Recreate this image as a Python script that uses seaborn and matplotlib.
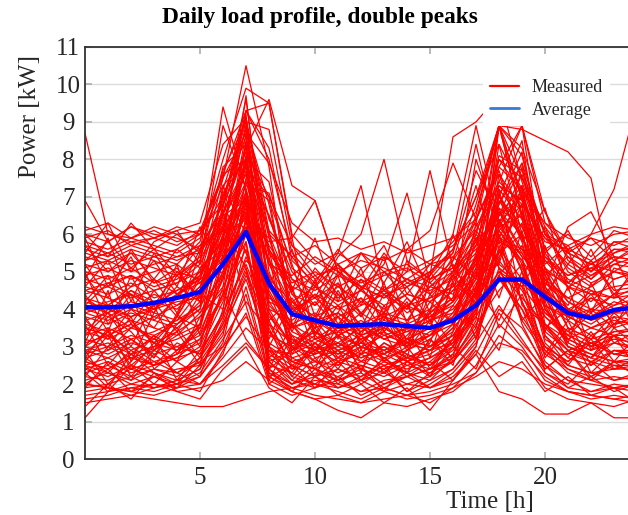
import numpy as np
import pandas as pd
import matplotlib
matplotlib.use("Agg")
import matplotlib.pyplot as plt
from matplotlib.lines import Line2D
import seaborn as sns

hours = list(range(25))

measured = [
    [8.7, 6.0, 5.8, 5.9, 5.7, 6.1, 7.6, 9.3, 8.0, 5.5, 4.8, 5.2, 4.6, 4.9, 5.1, 4.7, 5.3, 6.2, 7.4, 6.8, 5.9, 5.2, 4.8, 5.5, 5.8],
    [6.9, 5.8, 6.2, 6.0, 5.9, 5.6, 6.8, 8.2, 6.0, 4.5, 4.9, 4.3, 4.8, 4.4, 4.6, 5.0, 5.6, 7.0, 8.4, 7.2, 6.1, 5.0, 4.6, 5.2, 5.4],
    [1.1, 1.8, 2.0, 1.9, 2.1, 2.0, 2.8, 4.6, 2.3, 2.0, 2.2, 1.9, 2.1, 2.3, 2.0, 2.2, 2.6, 3.4, 4.8, 4.0, 3.0, 2.4, 2.1, 1.9, 2.0],
    [4.2, 4.0, 3.8, 4.1, 4.3, 5.0, 7.5, 10.5, 7.8, 3.6, 3.2, 3.4, 3.0, 3.3, 3.1, 2.9, 3.5, 4.2, 6.5, 7.0, 5.1, 4.2, 3.9, 4.4, 4.0],
    [5.5, 5.3, 5.6, 5.4, 5.2, 5.8, 8.0, 9.9, 9.5, 6.0, 5.3, 4.9, 5.5, 5.0, 5.2, 4.8, 5.1, 6.0, 8.0, 7.5, 6.2, 5.4, 5.0, 5.6, 5.5],
    [3.5, 3.3, 3.6, 3.2, 3.8, 5.5, 9.4, 7.2, 4.0, 3.0, 2.8, 3.1, 2.7, 3.0, 2.6, 2.9, 3.3, 4.1, 5.0, 4.6, 3.8, 3.3, 3.0, 3.4, 3.5],
    [4.8, 4.6, 4.9, 4.5, 4.7, 5.2, 6.5, 8.3, 9.6, 7.3, 6.9, 5.0, 4.6, 4.3, 4.8, 4.4, 4.9, 5.5, 6.8, 7.9, 6.0, 5.1, 4.7, 5.0, 4.9],
    [2.6, 2.4, 2.7, 2.5, 2.8, 3.5, 6.0, 9.3, 9.5, 5.9, 3.2, 2.9, 3.1, 2.7, 2.9, 3.2, 3.8, 5.1, 8.9, 7.0, 4.0, 3.1, 2.8, 2.6, 2.7],
    [5.9, 6.1, 5.7, 5.9, 6.2, 6.0, 7.0, 8.8, 5.6, 4.4, 4.1, 4.6, 4.2, 4.5, 3.9, 4.3, 5.0, 5.8, 7.4, 8.9, 6.6, 5.5, 5.9, 5.3, 5.7],
    [2.0, 1.9, 1.8, 2.0, 1.9, 2.2, 4.0, 7.2, 2.3, 1.9, 2.1, 2.0, 1.8, 2.1, 2.2, 1.9, 2.3, 3.0, 5.6, 4.2, 2.6, 2.1, 2.0, 1.9, 2.0],
    [3.0, 2.8, 3.1, 2.9, 3.3, 3.6, 5.2, 8.5, 5.4, 2.6, 2.4, 2.7, 2.5, 2.3, 2.8, 2.5, 3.0, 3.9, 7.6, 5.8, 3.5, 2.9, 2.7, 3.1, 3.0],
    [4.5, 4.3, 4.0, 4.4, 4.1, 4.6, 6.3, 7.9, 4.1, 3.5, 3.7, 3.3, 3.6, 3.2, 3.4, 3.7, 4.0, 4.8, 6.2, 6.5, 4.9, 4.2, 3.8, 4.1, 4.5],
    [5.2, 5.0, 5.3, 5.1, 4.9, 5.4, 6.9, 9.0, 6.4, 5.0, 4.3, 4.7, 3.9, 4.5, 4.1, 4.6, 4.4, 5.3, 7.0, 6.2, 5.1, 4.6, 4.9, 5.3, 5.2],
    [2.3, 2.5, 2.2, 2.4, 2.3, 2.7, 3.8, 6.4, 2.5, 2.3, 2.0, 2.4, 2.2, 2.6, 2.3, 2.1, 2.7, 3.5, 6.0, 3.7, 2.8, 2.4, 2.2, 2.5, 2.3],
    [3.8, 3.6, 3.9, 3.7, 3.5, 4.0, 5.8, 7.0, 3.3, 3.0, 3.4, 2.9, 3.2, 3.5, 3.1, 3.3, 3.6, 4.7, 5.5, 6.0, 4.1, 3.7, 3.3, 3.6, 3.8],
    [1.5, 1.6, 1.7, 1.6, 1.5, 1.4, 1.4, 1.6, 1.8, 1.9, 1.7, 1.6, 1.5, 1.6, 1.7, 1.8, 2.0, 2.3, 3.1, 2.9, 2.2, 1.8, 1.7, 1.6, 1.5],
    [4.9, 5.1, 4.8, 5.0, 5.2, 4.7, 5.6, 8.1, 3.6, 3.1, 2.9, 3.3, 3.0, 2.8, 3.2, 3.0, 3.4, 4.5, 6.8, 8.2, 5.5, 4.6, 4.2, 4.8, 5.0],
    [6.2, 6.0, 5.9, 6.1, 5.8, 6.0, 7.5, 8.7, 7.9, 6.3, 5.8, 5.9, 5.6, 5.8, 5.5, 5.7, 5.9, 6.4, 7.8, 7.2, 6.3, 5.9, 5.7, 6.0, 6.1],
    [2.8, 3.0, 2.7, 2.9, 2.6, 3.0, 4.4, 5.6, 3.1, 2.7, 2.9, 2.6, 2.8, 2.5, 2.7, 3.0, 3.3, 4.2, 5.3, 4.5, 3.4, 2.9, 3.1, 2.8, 2.9],
    [4.0, 4.2, 4.4, 4.1, 4.5, 4.8, 6.4, 7.6, 6.5, 4.4, 3.7, 3.9, 3.5, 3.8, 3.6, 3.9, 4.3, 5.4, 6.7, 6.2, 4.8, 4.0, 3.8, 4.2, 4.0],
    [3.2, 3.0, 3.3, 3.1, 2.9, 3.4, 4.8, 6.8, 4.2, 3.3, 3.0, 2.8, 3.1, 2.9, 3.2, 3.5, 5.0, 6.5, 8.9, 8.8, 8.5, 8.2, 7.5, 4.6, 3.3],
    [4.6, 4.4, 4.7, 4.3, 4.5, 4.9, 6.1, 7.4, 5.2, 4.0, 4.3, 3.8, 4.1, 4.4, 4.0, 4.9, 8.6, 9.0, 9.7, 7.4, 5.6, 4.8, 4.5, 4.3, 4.6],
    [3.9, 3.7, 4.0, 3.8, 4.1, 4.4, 5.7, 7.7, 4.8, 3.4, 3.1, 3.5, 3.2, 3.4, 3.0, 3.3, 3.8, 4.6, 5.9, 5.3, 4.4, 5.2, 6.0, 7.2, 9.5],
    [5.0, 4.8, 5.1, 4.7, 4.9, 5.3, 6.6, 7.8, 5.5, 4.6, 4.3, 5.4, 6.0, 8.0, 5.3, 4.8, 5.1, 5.7, 6.6, 6.0, 5.3, 4.9, 5.1, 4.8, 5.0],
    [2.4, 2.6, 2.3, 2.5, 2.7, 2.9, 4.2, 6.0, 4.5, 3.4, 4.6, 5.5, 7.3, 4.5, 5.0, 7.7, 5.1, 4.3, 6.4, 5.0, 3.6, 2.9, 2.6, 2.4, 2.5],
    [3.6, 3.4, 3.7, 3.5, 3.3, 3.9, 5.0, 6.3, 5.8, 5.9, 6.9, 5.0, 4.5, 5.2, 7.1, 4.7, 4.2, 5.2, 7.2, 6.4, 4.5, 3.8, 3.5, 3.7, 3.6],
    [1.9, 2.0, 2.2, 1.9, 2.1, 2.4, 3.6, 5.0, 2.6, 2.1, 1.9, 2.2, 1.7, 2.0, 2.3, 1.9, 2.1, 2.8, 4.0, 3.5, 2.5, 2.1, 1.8, 2.0, 1.9],
    [5.6, 5.4, 5.7, 5.5, 5.3, 5.6, 6.2, 7.1, 5.2, 4.9, 5.4, 5.0, 5.3, 5.1, 4.8, 5.2, 5.0, 5.6, 6.1, 6.8, 5.9, 5.5, 5.2, 5.6, 5.6],
    [2.7, 2.9, 3.2, 2.8, 3.0, 3.3, 5.0, 8.0, 2.2, 2.5, 2.2, 2.6, 2.4, 2.2, 2.5, 2.3, 2.6, 3.7, 8.9, 6.5, 3.3, 2.7, 2.5, 2.9, 2.7],
    [4.3, 4.1, 4.5, 4.2, 4.0, 4.6, 5.5, 6.6, 4.6, 3.6, 3.9, 3.4, 3.7, 3.3, 3.5, 3.8, 4.1, 5.0, 5.8, 5.5, 4.5, 4.0, 4.3, 4.1, 4.3],
    [1.7, 1.8, 1.9, 2.0, 1.8, 1.9, 2.1, 2.6, 2.1, 1.8, 1.6, 1.7, 1.5, 1.8, 1.6, 1.7, 1.9, 2.2, 2.6, 2.4, 2.0, 1.8, 1.7, 1.6, 1.7],
    [3.4, 3.2, 3.5, 3.3, 3.6, 4.1, 6.8, 9.2, 3.0, 2.6, 2.8, 3.0, 2.7, 2.9, 2.6, 2.8, 3.2, 4.3, 7.0, 8.5, 4.6, 3.5, 3.2, 3.4, 3.4],
    [5.3, 5.5, 5.2, 5.4, 5.6, 5.1, 5.8, 6.9, 5.7, 4.8, 4.5, 4.9, 4.6, 4.3, 4.7, 4.5, 4.8, 5.4, 5.9, 5.6, 5.0, 4.7, 5.1, 5.4, 5.3],
    [2.2, 2.1, 2.4, 2.2, 2.0, 2.3, 3.2, 4.2, 3.4, 2.6, 2.4, 2.1, 2.3, 1.9, 2.2, 2.4, 2.7, 3.6, 4.5, 5.2, 3.3, 2.5, 2.3, 2.1, 2.2],
    [4.7, 4.9, 4.6, 4.8, 4.4, 4.9, 7.0, 8.6, 5.9, 4.2, 3.8, 4.1, 3.6, 3.9, 3.7, 4.0, 4.5, 5.3, 8.0, 7.1, 5.4, 4.7, 4.4, 4.6, 4.7],
    [3.1, 3.3, 2.9, 3.2, 3.0, 2.8, 3.9, 5.3, 4.7, 3.2, 2.9, 3.1, 2.8, 3.0, 2.7, 2.9, 3.1, 3.8, 4.9, 5.7, 4.0, 3.3, 3.0, 3.2, 3.1],
    [2.0, 1.9, 1.8, 1.7, 1.9, 2.0, 2.5, 3.1, 2.4, 1.8, 1.6, 1.3, 1.1, 1.5, 1.4, 1.6, 1.8, 2.3, 3.3, 2.8, 1.9, 1.6, 1.5, 1.4, 1.6],
    [2.5, 2.3, 2.1, 2.4, 2.2, 2.6, 3.5, 4.8, 3.0, 2.2, 2.0, 1.9, 2.1, 1.8, 2.0, 1.9, 2.2, 2.8, 1.8, 1.6, 1.2, 1.2, 1.5, 1.1, 1.1],
    [6.0, 5.8, 6.2, 5.9, 6.1, 6.3, 8.4, 9.1, 6.1, 5.4, 5.7, 5.2, 5.5, 5.3, 5.6, 5.2, 5.4, 6.1, 7.3, 6.9, 5.8, 5.6, 5.9, 5.7, 6.0],
    [2.9, 2.7, 3.0, 2.6, 2.8, 3.1, 4.9, 6.6, 2.8, 2.4, 2.6, 2.3, 2.6, 2.4, 2.7, 2.5, 2.9, 4.0, 6.9, 6.0, 3.2, 2.8, 2.6, 2.9, 2.9],
    [4.4, 4.6, 4.3, 4.5, 4.7, 5.0, 5.9, 7.3, 7.1, 5.1, 4.6, 4.2, 4.5, 4.1, 4.4, 4.2, 4.7, 5.9, 6.3, 7.6, 5.3, 4.6, 4.4, 4.3, 4.4],
    [1.8, 1.9, 1.7, 1.9, 2.0, 1.8, 2.9, 3.9, 2.0, 1.7, 1.9, 2.1, 1.8, 1.9, 1.7, 2.0, 2.4, 3.1, 4.1, 3.2, 2.3, 1.9, 1.8, 1.9, 1.8],
    [3.7, 3.9, 3.5, 3.8, 3.6, 4.2, 6.2, 8.9, 6.8, 3.9, 3.5, 3.8, 3.3, 3.6, 3.4, 3.7, 3.9, 5.1, 6.6, 5.6, 4.3, 3.8, 3.5, 3.8, 3.7],
    [5.7, 5.5, 5.8, 5.6, 5.4, 5.7, 6.6, 7.6, 4.2, 3.9, 4.4, 4.0, 4.3, 3.8, 4.1, 4.3, 4.6, 5.7, 8.1, 7.7, 6.0, 5.5, 5.2, 5.5, 5.7],
    [2.5, 2.7, 2.4, 2.6, 2.3, 2.6, 3.0, 3.8, 2.9, 2.5, 2.2, 2.4, 2.1, 2.5, 2.3, 2.6, 3.1, 4.4, 5.4, 6.3, 4.1, 3.0, 2.7, 2.5, 2.5],
    [3.3, 3.5, 3.2, 3.4, 3.7, 4.5, 7.1, 8.0, 7.4, 4.5, 3.4, 3.1, 3.5, 3.2, 3.0, 3.4, 3.7, 4.4, 6.1, 5.1, 3.9, 3.4, 3.1, 3.3, 3.3],
    [4.1, 3.9, 4.2, 4.0, 4.4, 4.7, 5.4, 6.1, 4.9, 4.0, 3.6, 3.9, 3.4, 3.7, 3.5, 3.8, 4.2, 4.9, 5.2, 4.7, 4.1, 3.8, 4.0, 3.9, 4.1],
    [2.1, 2.3, 2.0, 2.2, 2.4, 2.5, 5.5, 6.9, 2.4, 2.0, 2.3, 2.1, 2.4, 2.0, 2.2, 2.4, 2.6, 3.3, 5.1, 4.6, 2.9, 2.3, 2.1, 2.2, 2.1],
    [5.1, 5.3, 5.0, 5.2, 5.4, 5.5, 7.7, 9.0, 8.8, 5.7, 4.9, 5.1, 4.7, 5.0, 4.6, 4.9, 5.6, 7.0, 8.9, 8.3, 6.6, 5.3, 4.9, 5.2, 5.1],
    [3.5, 3.3, 3.6, 3.1, 3.4, 3.8, 4.6, 5.8, 2.9, 2.8, 3.1, 2.7, 3.0, 2.8, 3.1, 2.9, 3.3, 4.0, 5.0, 4.3, 3.6, 3.2, 3.5, 3.3, 3.5],
    [4.5, 4.7, 4.9, 4.6, 4.8, 5.3, 7.8, 8.4, 2.6, 2.9, 3.2, 3.6, 3.3, 3.5, 3.2, 3.5, 3.8, 4.8, 7.3, 6.6, 4.7, 4.3, 4.0, 4.4, 4.5],
    [2.6, 2.4, 2.8, 2.5, 2.7, 3.2, 4.4, 7.5, 6.1, 3.0, 2.6, 2.5, 2.9, 2.6, 2.4, 2.7, 3.0, 4.1, 5.8, 6.6, 4.2, 3.0, 2.8, 2.6, 2.6],
    [6.1, 6.3, 5.9, 6.2, 6.0, 6.1, 6.8, 8.2, 7.0, 5.7, 5.2, 5.5, 5.1, 5.4, 5.0, 5.3, 5.7, 6.3, 8.9, 7.5, 6.0, 5.7, 6.0, 6.2, 6.1],
    [1.6, 1.7, 1.9, 1.8, 2.0, 2.2, 3.0, 4.4, 2.2, 1.9, 2.0, 1.8, 1.6, 1.9, 1.7, 1.5, 1.9, 2.5, 3.6, 3.0, 2.1, 1.8, 1.6, 1.7, 1.6],
    [3.9, 4.1, 3.8, 4.0, 4.2, 4.3, 6.7, 9.6, 5.0, 3.5, 3.8, 3.3, 3.6, 3.2, 3.5, 3.3, 3.9, 4.9, 7.8, 8.9, 5.0, 4.0, 3.7, 3.9, 3.9],
    [5.4, 5.2, 5.5, 5.3, 5.0, 4.8, 5.3, 6.5, 4.8, 4.2, 4.6, 4.1, 4.5, 4.0, 4.4, 4.2, 4.6, 5.2, 6.5, 7.3, 5.4, 4.9, 5.2, 5.0, 5.4],
    [2.9, 3.1, 2.8, 3.0, 3.2, 3.5, 5.9, 7.8, 7.0, 3.6, 2.7, 2.9, 2.6, 2.8, 2.5, 2.7, 3.1, 4.0, 6.2, 7.2, 4.3, 3.2, 2.9, 3.1, 2.9],
    [4.0, 3.8, 4.1, 3.9, 3.7, 4.1, 4.9, 6.1, 3.8, 3.1, 3.4, 3.0, 3.3, 2.9, 3.2, 3.0, 3.5, 5.5, 8.9, 6.9, 4.6, 3.9, 3.6, 4.0, 4.0],
    [2.4, 2.2, 2.5, 2.3, 2.1, 2.4, 3.7, 5.4, 3.9, 2.7, 2.4, 2.2, 2.5, 2.3, 2.6, 2.4, 2.8, 3.9, 6.4, 5.4, 3.1, 2.5, 2.3, 2.4, 2.4],
    [5.8, 5.6, 5.9, 5.7, 5.5, 5.9, 7.3, 8.0, 5.6, 4.7, 5.0, 4.6, 4.9, 4.5, 4.8, 4.6, 5.0, 6.8, 8.9, 8.9, 6.3, 5.6, 5.3, 5.8, 5.8],
    [5.0, 3.6, 4.4, 2.9, 3.8, 4.9, 6.2, 5.1, 3.2, 4.6, 2.8, 3.9, 5.1, 3.4, 4.2, 2.7, 4.8, 6.1, 5.2, 7.3, 4.5, 3.1, 4.7, 3.5, 4.6],
    [3.1, 4.5, 2.6, 3.9, 5.2, 3.3, 4.4, 7.0, 5.6, 2.8, 3.7, 4.9, 2.9, 4.1, 3.0, 4.4, 3.6, 5.9, 4.3, 6.1, 3.4, 4.6, 2.9, 3.8, 3.2],
    [2.2, 3.0, 3.8, 2.4, 2.9, 3.6, 6.6, 4.1, 2.1, 3.3, 2.4, 3.6, 2.3, 3.9, 2.6, 3.1, 4.7, 3.2, 6.0, 4.2, 2.8, 3.7, 2.5, 3.3, 2.4],
    [4.8, 5.9, 4.2, 5.5, 4.6, 6.2, 5.1, 8.4, 4.7, 5.6, 3.8, 5.0, 4.1, 5.4, 3.6, 4.9, 6.0, 4.4, 7.1, 5.8, 6.7, 4.5, 5.6, 4.3, 5.2],
    [2.9, 2.0, 2.6, 3.3, 2.1, 2.9, 3.8, 6.1, 3.5, 2.2, 3.0, 2.1, 2.8, 3.4, 2.3, 3.2, 2.5, 4.6, 3.7, 5.0, 2.7, 3.5, 2.3, 2.9, 2.8],
    [5.9, 4.6, 5.4, 4.1, 5.0, 4.3, 7.3, 6.0, 4.4, 3.5, 4.8, 3.2, 4.6, 3.7, 5.3, 3.9, 4.5, 5.2, 6.6, 5.5, 4.2, 5.6, 3.9, 5.1, 4.9],
    [3.6, 2.5, 3.2, 2.7, 3.9, 3.0, 5.3, 8.7, 3.9, 3.0, 2.2, 3.4, 3.9, 2.6, 3.5, 2.4, 3.2, 5.0, 7.2, 4.1, 3.6, 2.7, 3.4, 2.6, 3.3],
    [1.9, 2.6, 2.1, 2.8, 2.3, 2.0, 2.7, 3.5, 2.9, 2.1, 2.7, 2.0, 2.5, 1.8, 2.6, 2.2, 3.0, 2.4, 3.9, 3.1, 2.4, 2.9, 2.1, 2.6, 2.2],
    [4.4, 3.4, 4.9, 3.7, 4.3, 5.6, 6.8, 5.5, 3.7, 4.3, 3.3, 4.5, 3.5, 4.7, 3.1, 4.0, 5.3, 7.3, 5.1, 4.6, 5.7, 3.8, 4.4, 3.6, 4.2],
    [2.7, 3.5, 2.4, 3.1, 2.6, 3.8, 4.5, 3.2, 2.4, 2.9, 3.5, 2.6, 3.2, 2.3, 2.9, 3.7, 2.6, 3.4, 4.9, 3.8, 2.9, 2.5, 3.3, 2.8, 2.7],
    [5.5, 6.3, 5.0, 5.8, 6.1, 5.2, 8.9, 7.2, 5.3, 4.5, 5.9, 4.2, 5.5, 4.7, 5.8, 4.4, 5.4, 4.8, 6.3, 7.0, 5.5, 6.1, 5.0, 5.8, 5.6],
    [3.3, 3.9, 3.0, 4.2, 3.4, 4.4, 4.0, 6.9, 2.4, 3.6, 2.9, 3.8, 2.8, 3.5, 4.1, 3.0, 3.6, 4.5, 8.4, 6.0, 4.0, 3.3, 3.9, 3.1, 3.4],
    [2.3, 1.8, 2.5, 2.0, 2.6, 2.2, 3.1, 5.8, 2.0, 2.5, 1.9, 2.6, 2.0, 2.4, 1.8, 2.3, 2.8, 3.8, 2.9, 4.8, 2.3, 2.0, 2.6, 2.1, 2.3],
    [4.6, 5.3, 4.0, 4.8, 3.9, 5.1, 5.6, 7.9, 6.5, 4.8, 4.1, 5.2, 3.8, 4.6, 4.0, 5.0, 4.2, 6.0, 5.3, 7.8, 4.7, 4.1, 5.3, 4.5, 4.6],
    [3.0, 3.8, 3.4, 2.7, 3.6, 4.0, 7.2, 9.1, 2.7, 2.3, 3.1, 2.4, 3.3, 2.6, 3.0, 2.2, 3.4, 6.3, 5.1, 3.7, 4.4, 3.0, 2.7, 3.5, 3.0],
    [5.2, 4.3, 5.6, 4.7, 5.1, 4.2, 6.0, 6.4, 5.9, 4.0, 5.1, 4.4, 3.8, 5.0, 4.3, 3.6, 4.9, 4.1, 5.6, 4.8, 6.2, 4.7, 5.3, 4.4, 5.0],
    [1.4, 2.0, 1.6, 2.3, 1.8, 1.6, 2.4, 3.0, 1.9, 1.5, 2.2, 1.7, 2.0, 1.5, 1.9, 1.3, 2.1, 2.9, 2.2, 2.6, 1.8, 2.2, 1.7, 1.9, 1.5],
    [4.2, 4.9, 3.6, 4.5, 3.8, 4.8, 6.5, 6.9, 3.0, 4.2, 3.5, 4.7, 3.3, 4.4, 3.7, 4.6, 5.2, 4.1, 8.9, 6.4, 5.1, 3.7, 4.3, 3.9, 4.1],
    [3.8, 2.9, 3.5, 4.1, 2.8, 3.6, 5.8, 9.7, 4.4, 3.1, 3.6, 2.7, 3.4, 3.9, 2.9, 3.3, 4.1, 3.5, 6.1, 5.3, 3.5, 4.0, 3.0, 3.6, 3.7],
    [6.0, 5.4, 6.3, 5.6, 6.0, 5.5, 6.5, 9.3, 8.3, 5.3, 4.7, 5.6, 4.9, 5.7, 4.4, 5.2, 5.8, 6.6, 8.9, 8.1, 5.6, 6.0, 5.4, 6.1, 5.9],
    [2.6, 3.3, 2.2, 2.9, 3.4, 2.5, 3.4, 4.9, 3.7, 2.4, 3.1, 2.5, 3.0, 2.7, 2.3, 3.2, 2.7, 5.4, 3.5, 4.4, 3.0, 2.6, 3.2, 2.4, 2.7],
    [4.9, 4.1, 4.6, 5.3, 4.4, 4.8, 5.0, 6.7, 4.3, 3.9, 4.7, 3.6, 4.3, 3.4, 4.1, 3.8, 4.3, 8.0, 6.2, 5.4, 4.8, 4.3, 4.6, 5.0, 4.8],
    [3.4, 4.0, 3.7, 3.1, 3.8, 3.5, 5.4, 6.2, 4.9, 2.9, 3.7, 3.0, 3.6, 2.8, 3.3, 3.9, 3.0, 4.5, 5.9, 7.1, 4.9, 3.5, 3.2, 3.9, 3.4],
    [2.0, 2.4, 1.8, 2.2, 1.9, 2.5, 3.3, 6.5, 2.2, 1.8, 2.4, 1.9, 2.2, 2.5, 1.8, 2.1, 2.4, 3.2, 4.9, 4.0, 2.5, 1.9, 2.2, 1.8, 2.0],
    [5.7, 5.0, 5.5, 4.8, 5.6, 6.0, 7.6, 8.0, 4.6, 3.8, 4.4, 3.5, 4.2, 3.9, 4.6, 3.7, 4.2, 5.4, 7.0, 5.9, 4.9, 5.4, 4.8, 5.3, 5.6],
    [3.7, 3.2, 4.0, 3.5, 4.4, 3.9, 4.8, 7.4, 6.9, 5.2, 3.3, 4.1, 3.1, 3.8, 3.2, 4.2, 3.6, 4.6, 6.7, 5.0, 3.9, 3.4, 4.0, 3.5, 3.7],
    [2.5, 1.9, 2.8, 2.3, 2.0, 2.7, 4.6, 8.1, 2.6, 2.0, 2.5, 2.9, 2.1, 2.7, 2.2, 2.6, 2.1, 3.0, 5.7, 3.6, 2.4, 2.9, 2.2, 2.6, 2.5],
    [4.1, 4.7, 4.4, 3.9, 4.9, 4.3, 6.0, 7.0, 5.3, 4.1, 3.6, 4.4, 3.9, 3.5, 4.3, 3.7, 4.9, 6.4, 7.6, 6.7, 4.4, 3.9, 4.5, 4.0, 4.2],
    [2.8, 3.4, 2.5, 3.0, 3.5, 2.7, 3.6, 5.1, 2.7, 3.2, 2.6, 3.3, 2.4, 3.1, 2.8, 2.5, 3.2, 3.9, 5.5, 6.8, 3.6, 3.0, 2.7, 3.3, 2.8],
    [5.3, 5.8, 5.1, 5.6, 4.9, 5.7, 6.1, 8.9, 6.0, 5.4, 4.6, 5.2, 4.5, 5.5, 4.7, 5.0, 5.5, 7.7, 6.5, 7.9, 5.2, 5.7, 5.0, 5.4, 5.3],
    [3.0, 3.4, 2.8, 3.3, 2.9, 3.2, 4.3, 6.2, 3.4, 2.9, 3.3, 2.8, 3.1, 3.6, 3.0, 3.9, 6.0, 8.9, 6.3, 5.2, 3.8, 3.2, 2.9, 3.3, 3.0],
    [4.3, 3.9, 4.5, 4.0, 4.6, 4.2, 5.6, 7.1, 4.0, 3.7, 4.2, 3.5, 4.8, 3.9, 5.6, 6.1, 7.9, 6.4, 7.7, 5.9, 4.6, 6.2, 6.6, 5.4, 4.3],
    [2.7, 2.3, 2.9, 2.5, 3.1, 2.8, 3.9, 5.2, 3.6, 2.5, 2.9, 3.3, 2.6, 3.1, 2.7, 4.8, 5.5, 8.4, 5.8, 4.2, 3.0, 2.6, 3.1, 2.8, 2.7],
]

average = [4.05, 4.05, 4.08, 4.17, 4.30, 4.46, 5.20, 6.06, 4.68, 3.87, 3.70, 3.55, 3.58,
           3.60, 3.55, 3.50, 3.70, 4.10, 4.79, 4.79, 4.33, 3.90, 3.76, 3.98, 4.05]

yticks = list(range(0, 12))
xticks = [5, 10, 15, 20]

rows = []
for d, vals in enumerate(measured):
    for h, v in zip(hours, vals):
        rows.append((d, h, v))
df = pd.DataFrame(rows, columns=["day", "hour", "power"])
df_avg = pd.DataFrame({"hour": hours, "power": average})

sns.set_theme(style="white")
plt.rcParams["font.family"] = ["Liberation Serif", "DejaVu Serif"]

W, H = 628, 515
fig = plt.figure(figsize=(W / 100, H / 100), dpi=100)
ax = fig.add_axes([85 / W, 1 - 459 / H, 552 / W, 412 / H])

sns.lineplot(data=df, x="hour", y="power", units="day", estimator=None,
             color="#ff0000", lw=0.9, ax=ax, legend=False)
sns.lineplot(data=df_avg, x="hour", y="power", color="#0000ff", lw=3.2,
             ax=ax, legend=False)

ax.set_xlim(0, 24)
ax.set_ylim(0, 11)
ax.set_xticks(xticks)
ax.set_yticks(yticks)
ax.set_xlabel("")
ax.set_ylabel("")
ax.yaxis.grid(True, color="#dcdcdc", lw=1.0, zorder=0)
ax.set_axisbelow(True)
for s in ax.spines.values():
    s.set_color("#333333")
    s.set_linewidth(1.3)
ax.tick_params(axis="both", which="both", direction="in", length=5,
               color="#b0b0b0", labelsize=18, labelcolor="#262626",
               top=True, right=True, left=True, bottom=True)
ax.tick_params(axis="x", pad=6)
ax.tick_params(axis="y", pad=12)
for lab in ax.get_yticklabels():
    lab.set_horizontalalignment("center")

fig.text(320 / W, 1 - 18 / H, "Daily load profile, double peaks",
         ha="center", va="center", fontsize=16.8, fontweight="bold", color="black")
fig.text(30 / W, 1 - 117 / H, "Power [kW]", ha="center", va="center",
         rotation=90, fontsize=18, color="#262626")
fig.text(490 / W, 1 - 502 / H, "Time [h]", ha="center", va="center",
         fontsize=18, color="#262626")

handles = [Line2D([], [], color="#ff0000", lw=1.6),
           Line2D([], [], color="#3a78d8", lw=2.0)]
leg = ax.legend(handles, ["Measured", "Average"], loc="upper left",
                bbox_to_anchor=(483 / W, 1 - 72 / H), bbox_transform=fig.transFigure,
                frameon=True, fancybox=False, edgecolor="none", facecolor="white",
                framealpha=1.0, fontsize=13, handlelength=1.6, handletextpad=0.7,
                labelspacing=0.3, borderpad=0.4, borderaxespad=0)
for t in leg.get_texts():
    t.set_color("#262626")
leg.set_zorder(10)

fig.savefig("out.png", dpi=100)
